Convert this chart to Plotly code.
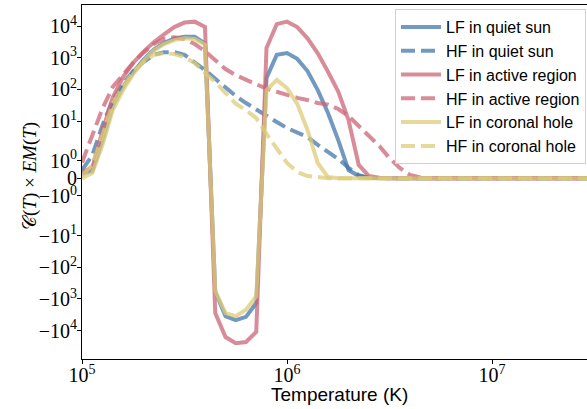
import numpy as np
import plotly.graph_objects as go

# log10 of temperature grid (K)
log_temperature = [5.00, 5.05, 5.10, 5.15, 5.20, 5.25, 5.30, 5.35, 5.40, 5.45,
                   5.50, 5.55, 5.60, 5.65, 5.70, 5.75, 5.80, 5.85, 5.90, 5.95,
                   6.00, 6.05, 6.10, 6.15, 6.20, 6.25, 6.30, 6.35, 6.40, 6.45,
                   6.50, 6.55, 6.60, 6.65, 6.70, 6.75, 6.80, 6.85, 6.90, 6.95,
                   7.00, 7.05, 7.10, 7.15, 7.20, 7.25, 7.30, 7.35, 7.40, 7.45, 7.50]

lf_quiet_sun = [0.25, 0.41, 2.5, 30, 120, 350, 850, 1800, 2900, 4100,
                4600, 4600, 2800, -590, -3500, -4700, -3700, -1350, 230, 1230,
                1400, 920, 380, 95, 18, 2.5, 0.47, 0.13, 0.02, 0,
                0, 0, 0, 0, 0, 0, 0, 0, 0, 0,
                0, 0, 0, 0, 0, 0, 0, 0, 0, 0, 0]
hf_quiet_sun = [0.47, 1.3, 7.4, 46, 150, 380, 730, 1230, 1500, 1500,
                1230, 730, 410, 215, 110, 62, 37, 24, 14.4, 9.3,
                6.0, 4.2, 3.1, 1.9, 1.5, 1.1, 0.6, 0.18, 0.03, 0,
                0, 0, 0, 0, 0, 0, 0, 0, 0, 0,
                0, 0, 0, 0, 0, 0, 0, 0, 0, 0, 0]
lf_active_region = [0.36, 0.6, 4.9, 55, 245, 690, 1550, 3100, 5500, 9300,
                    12900, 13800, 9300, -2800, -16000, -25000, -23000, -11000, 2040, 11500,
                    13800, 9300, 4100, 1380, 360, 85, 10.7, 0.76, 0.13, 0.03,
                    0, 0, 0, 0, 0, 0, 0, 0, 0, 0,
                    0, 0, 0, 0, 0, 0, 0, 0, 0, 0, 0]
hf_active_region = [0.9, 3.5, 25, 120, 300, 700, 1450, 2700, 3900, 4400,
                    3900, 2700, 1600, 820, 440, 280, 200, 140, 105, 84,
                    67, 54, 46, 37, 33, 24, 14.4, 6.9, 3.4, 1.84,
                    1.15, 0.59, 0.19, 0.05, 0.01, 0, 0, 0, 0, 0,
                    0, 0, 0, 0, 0, 0, 0, 0, 0, 0, 0]
lf_coronal_hole = [0, 0.3, 1.9, 22, 95, 310, 780, 1700, 2700, 3600,
                   4100, 3900, 2600, -570, -2800, -3500, -2200, -830, 95, 200,
                   110, 35, 5.2, 0.87, 0.07, 0, 0, 0, 0, 0,
                   0, 0, 0, 0, 0, 0, 0, 0, 0, 0,
                   0, 0, 0, 0, 0, 0, 0, 0, 0, 0, 0]
hf_coronal_hole = [0.13, 0.76, 3.6, 35, 130, 350, 730, 1230, 1400, 1300,
                   1050, 680, 330, 170, 78, 35, 22, 12.4, 3.9, 1.72,
                   0.87, 0.36, 0.13, 0.07, 0, 0, 0, 0, 0, 0,
                   0, 0, 0, 0, 0, 0, 0, 0, 0, 0,
                   0, 0, 0, 0, 0, 0, 0, 0, 0, 0, 0]

series_names = ["LF in quiet sun", "HF in quiet sun", "LF in active region",
                "HF in active region", "LF in coronal hole", "HF in coronal hole"]
y_tick_values = [-1e4, -1e3, -1e2, -1e1, -1, 0, 1, 1e1, 1e2, 1e3, 1e4]
y_tick_labels = ["−10<sup>4</sup>", "−10<sup>3</sup>", "−10<sup>2</sup>", "−10<sup>1</sup>",
                 "−10<sup>0</sup>", "0", "10<sup>0</sup>", "10<sup>1</sup>",
                 "10<sup>2</sup>", "10<sup>3</sup>", "10<sup>4</sup>"]
x_tick_values = [1e5, 1e6, 1e7]
x_tick_labels = ["10<sup>5</sup>", "10<sup>6</sup>", "10<sup>7</sup>"]

# symmetric-log scale (linthresh=2, linscale=1, base 10), in decade units
LINTHRESH = 2.0
LINSCALE_ADJ = 1.0 / (1.0 - 1.0 / 10.0)


def symlog(values):
    v = np.asarray(values, dtype=float)
    a = np.abs(v)
    out = np.where(a <= LINTHRESH, v * LINSCALE_ADJ / LINTHRESH,
                   np.sign(v) * (LINSCALE_ADJ + np.log10(np.maximum(a, 1e-300) / LINTHRESH)))
    return out


temperature = 10 ** np.asarray(log_temperature)

blue = "#4477AA"
red = "#CC6677"
yellow = "#DDCC77"
series = [
    (lf_quiet_sun, blue, "solid"),
    (hf_quiet_sun, blue, "14px,6px"),
    (lf_active_region, red, "solid"),
    (hf_active_region, red, "14px,6px"),
    (lf_coronal_hole, yellow, "solid"),
    (hf_coronal_hole, yellow, "14px,6px"),
]

fig = go.Figure()
for name, (vals, col, dash) in zip(series_names, series):
    fig.add_trace(go.Scatter(
        x=temperature, y=symlog(vals), mode="lines", name=name,
        line=dict(color=col, width=4, dash=dash), opacity=0.75,
    ))

W, H = 587, 409
L, R, T, B = 82, 0, 5, 50
pw, ph = W - L - R, H - T - B

fig.update_layout(
    width=W, height=H,
    margin=dict(l=L, r=R, t=T, b=B, pad=0),
    paper_bgcolor="white", plot_bgcolor="white",
    showlegend=True,
    legend=dict(
        x=(395 - L) / pw, y=(H - B - 9) / ph, xanchor="left", yanchor="top",
        bgcolor="rgba(255,255,255,0.8)", bordercolor="#d0d0d0", borderwidth=1,
        font=dict(family="Liberation Sans, Arial, sans-serif", size=16, color="#000"),
        itemwidth=40,
    ),
    xaxis=dict(
        type="log", range=[5, 5 + pw / 205.0],
        tickvals=x_tick_values, ticktext=x_tick_labels,
        ticks="outside", ticklen=4, tickwidth=1, tickcolor="#000",
        ticklabelstandoff=-6,
        showgrid=False, zeroline=False,
        showline=True, linecolor="#000", linewidth=1, mirror=True,
        tickfont=dict(family="Liberation Serif, Times New Roman, serif", size=20, color="#000"),
        automargin=False,
    ),
    yaxis=dict(
        range=[-5.709, 5.476],
        tickvals=list(symlog(y_tick_values)), ticktext=y_tick_labels,
        ticks="outside", ticklen=4, tickwidth=1, tickcolor="#000",
        ticklabelstandoff=-4,
        showgrid=False, zeroline=False,
        showline=True, linecolor="#000", linewidth=1,
        tickfont=dict(family="Liberation Serif, Times New Roman, serif", size=20, color="#000"),
        automargin=False,
    ),
    annotations=[
        dict(text="Temperature (K)", xref="paper", yref="paper",
             x=(339 - L) / pw, y=(H - B - 394) / ph, xanchor="center", yanchor="middle",
             showarrow=False,
             font=dict(family="Liberation Sans, Arial, sans-serif", size=19, color="#000")),
        dict(text="𝒞(<i>T</i>) × <i>EM</i>(<i>T</i>)", xref="paper", yref="paper",
             x=(30 - L) / pw, y=(H - B - 176) / ph, xanchor="center", yanchor="middle",
             textangle=-90, showarrow=False,
             font=dict(family="Liberation Serif, DejaVu Serif, serif", size=19, color="#000")),
    ],
)

fig.write_html("out.html", config={"displayModeBar": False},
               post_script="document.body.style.margin='0';document.body.style.overflow='hidden';")
